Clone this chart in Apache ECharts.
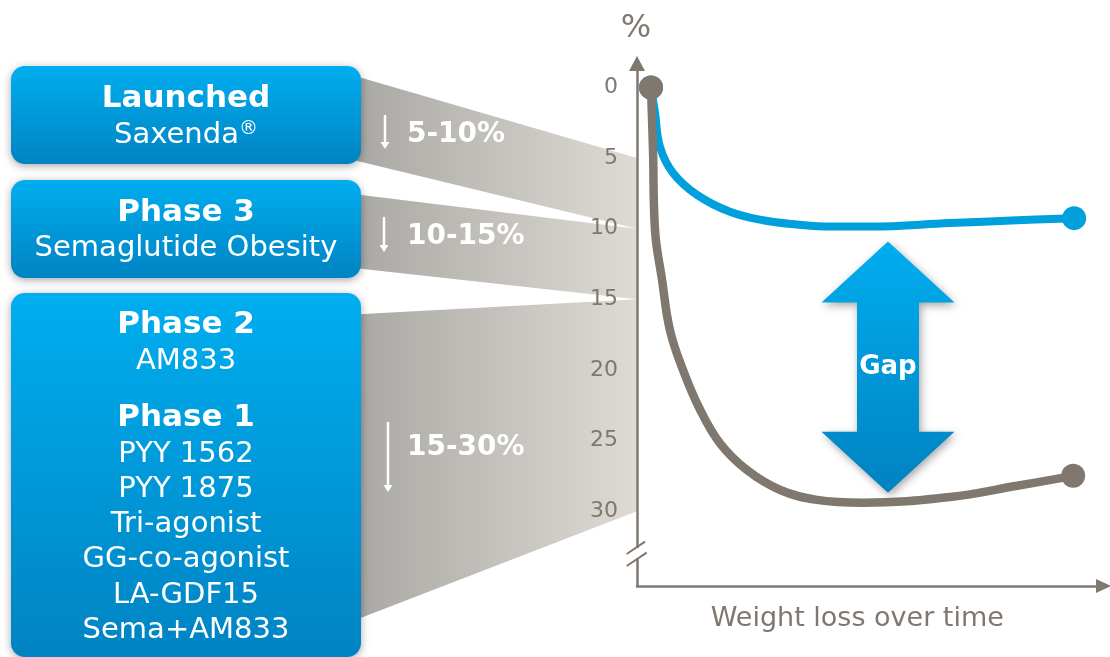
<!DOCTYPE html>
<html>
<head>
<meta charset="utf-8">
<script src="https://cdn.jsdelivr.net/npm/echarts@6/dist/echarts.min.js"></script>
<style>
  html, body { margin: 0; padding: 0; background: #fff; }
  #chart { width: 1110px; height: 657px; }
</style>
</head>
<body>
<div id="chart"></div>
<script>
// curves (x: time 0-100, y: % weight loss, axis inverted)
const blueTime = [3, 3.86, 4.93, 7.72, 12.86, 19.94, 27.0, 34.3, 41.4, 49.9, 67.1, 81.5, 93.7];
const blueLoss = [0, 1.8, 4.2, 6.05, 7.6, 8.8, 9.4, 9.7, 9.85, 9.85, 9.6, 9.4, 9.25];
const grayTime = [3, 3.43, 3.86, 5.36, 7.07, 9.86, 13.5, 17.8, 23.6, 30.7, 38.6, 48.4, 67.1, 81.5, 93.5];
const grayLoss = [0, 4.4, 10.1, 13.6, 17.2, 20.0, 22.8, 25.2, 27.1, 28.5, 29.2, 29.4, 29.0, 28.2, 27.5];
const yTicks = [0, 5, 10, 15, 20, 25, 30];

// weight loss bands per pipeline stage
const bandRanges = [[5, 10], [10, 15], [15, 30]];
const bandLabels = ['5-10%', '10-15%', '15-30%'];
// gap arrow: x, top, bottom
const gapArrow = [[53.8, 10.9, 28.7]];

// left hand stage boxes
const stageTitles = ['Launched', 'Phase 3', 'Phase 2', 'Phase 1'];
const stageDrugs = [['Saxenda'], ['Semaglutide Obesity'], ['AM833'],
  ['PYY 1562', 'PYY 1875', 'Tri-agonist', 'GG-co-agonist', 'LA-GDF15', 'Sema+AM833']];

const FONT = 'Verdana, "DejaVu Sans", sans-serif';
const GREY = '#80776f';
const BLUE = '#00a0dc';

// layout of the left panel (pixels)
const boxRects = [[11, 66, 350, 98], [11, 180, 350, 98], [11, 293, 350, 364]];
const titleY = [99, 213, 325, 418];
const drugY0 = [135, 248, 361, 454];
const LINE_H = 35.3;
const bandLeft = [[73, 158], [193, 267], [315, 624]];
const bandLabelY = [135, 237, 448];
const bandArrowX = [385, 384, 388];
const bandArrowY = [[115, 149], [217, 252], [422, 492]];

const chart = echarts.init(document.getElementById('chart'));

function pts(xs, ys) { return xs.map((x, i) => [x, ys[i]]); }
function endDots(n, size) {
  return (v, p) => (p.dataIndex === 0 || p.dataIndex === n - 1) ? size : 0;
}
function boxGrad() {
  return new echarts.graphic.LinearGradient(0, 0, 0, 1, [
    { offset: 0, color: '#00aeef' }, { offset: 1, color: '#0083c3' }]);
}

const graphics = [];
boxRects.forEach(r => {
  graphics.push({
    type: 'rect', z: 10,
    shape: { x: r[0], y: r[1], width: r[2], height: r[3], r: 14 },
    style: { fill: boxGrad(), shadowBlur: 8, shadowColor: 'rgba(0,0,0,0.35)', shadowOffsetY: 2 }
  });
});
stageTitles.forEach((t, i) => {
  graphics.push({
    type: 'text', z: 11, x: 186, y: titleY[i],
    style: { text: t, fill: '#fff', fontSize: 31, fontWeight: 'bold', fontFamily: FONT,
      align: 'center', verticalAlign: 'middle' }
  });
  stageDrugs[i].forEach((d, j) => {
    const reg = i === 0 && j === 0;
    graphics.push({
      type: 'text', z: 11, x: 186, y: drugY0[i] + j * LINE_H,
      style: {
        text: reg ? '{a|' + d + '}{r|®}' : d,
        fill: '#fff', fontSize: 29, fontFamily: FONT, align: 'center', verticalAlign: 'middle',
        rich: reg ? {
          a: { fontSize: 29, fontFamily: FONT, fill: '#fff' },
          r: { fontSize: 19, fontFamily: FONT, fill: '#fff', padding: [0, 0, 12, 0] }
        } : undefined
      }
    });
  });
});
// "%" unit
graphics.push({
  type: 'text', z: 11, x: 636, y: 29,
  style: { text: '%', fill: GREY, fontSize: 32, fontFamily: FONT, align: 'center', verticalAlign: 'middle' }
});
// axis break marks
graphics.push({ type: 'rect', z: 20, shape: { x: 633, y: 548, width: 9, height: 10 }, style: { fill: '#fff' } });
graphics.push({ type: 'line', z: 21, shape: { x1: 626.7, y1: 554, x2: 645, y2: 541.7 }, style: { stroke: GREY, lineWidth: 2 } });
graphics.push({ type: 'line', z: 21, shape: { x1: 626.7, y1: 566, x2: 646.7, y2: 552.7 }, style: { stroke: GREY, lineWidth: 2 } });

chart.setOption({
  animation: false,
  grid: { left: 637, right: 6.5, top: 63.5, bottom: 71 },
  xAxis: {
    type: 'value', min: 0, max: 100,
    axisLine: { onZero: false, lineStyle: { color: GREY, width: 2.5 },
      symbol: ['none', 'path://M7,0L14,15L0,15Z'], symbolSize: [15, 15] },
    axisTick: { show: false }, axisLabel: { show: false }, splitLine: { show: false },
    name: 'Weight loss over time', nameLocation: 'middle', nameGap: 19,
    nameTextStyle: { color: GREY, fontSize: 27, fontFamily: FONT, padding: [0, 26, 0, 0] }
  },
  yAxis: {
    type: 'value', inverse: true, min: -1.7, max: 35.3, z: 5,
    axisLine: { onZero: false, lineStyle: { color: GREY, width: 2.5 },
      symbol: ['none', 'path://M8,0L16,15L0,15Z'], symbolSize: [16, 15] },
    axisTick: { show: false }, splitLine: { show: false },
    axisLabel: { customValues: yTicks, color: GREY, fontSize: 22, fontFamily: FONT, margin: 19 }
  },
  graphic: { elements: graphics },
  series: [
    {
      type: 'custom', name: 'bands', clip: false, z: 1, silent: true,
      data: bandRanges,
      renderItem(params, api) {
        const i = params.dataIndex;
        const a = api.coord([0, api.value(0)]);
        const b = api.coord([0, api.value(1)]);
        const L = bandLeft[i];
        const ax = bandArrowX[i], A = bandArrowY[i];
        return {
          type: 'group',
          children: [
            {
              type: 'polygon',
              shape: { points: [[345, L[0]], a, b, [345, L[1]]] },
              style: { fill: new echarts.graphic.LinearGradient(0, 0, 1, 0, [
                { offset: 0, color: '#a8a6a2' }, { offset: 1, color: '#dedbd5' }]) }
            },
            { type: 'line', shape: { x1: ax, y1: A[0], x2: ax, y2: A[1] - 5 }, style: { stroke: '#fff', lineWidth: 2.5 } },
            { type: 'polygon', shape: { points: [[ax - 4.5, A[1] - 7], [ax + 4.5, A[1] - 7], [ax, A[1]]] }, style: { fill: '#fff' } },
            {
              type: 'text', x: 407, y: bandLabelY[i],
              style: { text: bandLabels[i], fill: '#fff', fontSize: 28, fontWeight: 'bold', fontFamily: FONT,
                align: 'left', verticalAlign: 'middle' }
            }
          ]
        };
      }
    },
    {
      type: 'line', name: 'current', data: pts(blueTime, blueLoss),
      smooth: 0.4, z: 3, silent: true,
      lineStyle: { color: BLUE, width: 8 }, itemStyle: { color: BLUE },
      symbol: 'circle', symbolSize: endDots(blueTime.length, 24), showSymbol: true
    },
    {
      type: 'line', name: 'future', data: pts(grayTime, grayLoss),
      smooth: 0.4, z: 4, silent: true,
      lineStyle: { color: GREY, width: 8.5 }, itemStyle: { color: GREY },
      symbol: 'circle', symbolSize: endDots(grayTime.length, 24), showSymbol: true
    },
    {
      type: 'custom', name: 'gap', clip: false, z: 5, silent: true,
      data: gapArrow,
      encode: { x: 0, y: [1, 2] },
      renderItem(params, api) {
        const t = api.coord([api.value(0), api.value(1)]);
        const b = api.coord([api.value(0), api.value(2)]);
        const cx = t[0], hw = 66.5, sw = 31, hl = 61;
        const y1 = t[1], y2 = b[1];
        return {
          type: 'group',
          children: [
            {
              type: 'polygon',
              shape: { points: [
                [cx, y1], [cx + hw, y1 + hl], [cx + sw, y1 + hl], [cx + sw, y2 - hl], [cx + hw, y2 - hl],
                [cx, y2], [cx - hw, y2 - hl], [cx - sw, y2 - hl], [cx - sw, y1 + hl], [cx - hw, y1 + hl]
              ] },
              style: {
                fill: new echarts.graphic.LinearGradient(0, 0, 0, 1, [
                  { offset: 0, color: '#00aeef' }, { offset: 1, color: '#0082c2' }]),
                shadowBlur: 8, shadowColor: 'rgba(0,0,0,0.35)', shadowOffsetX: 2, shadowOffsetY: 3
              }
            },
            {
              type: 'text', x: cx, y: (y1 + y2) / 2,
              style: { text: 'Gap', fill: '#fff', fontSize: 26, fontWeight: 'bold', fontFamily: FONT,
                align: 'center', verticalAlign: 'middle' }
            }
          ]
        };
      }
    }
  ]
});
</script>
</body>
</html>
